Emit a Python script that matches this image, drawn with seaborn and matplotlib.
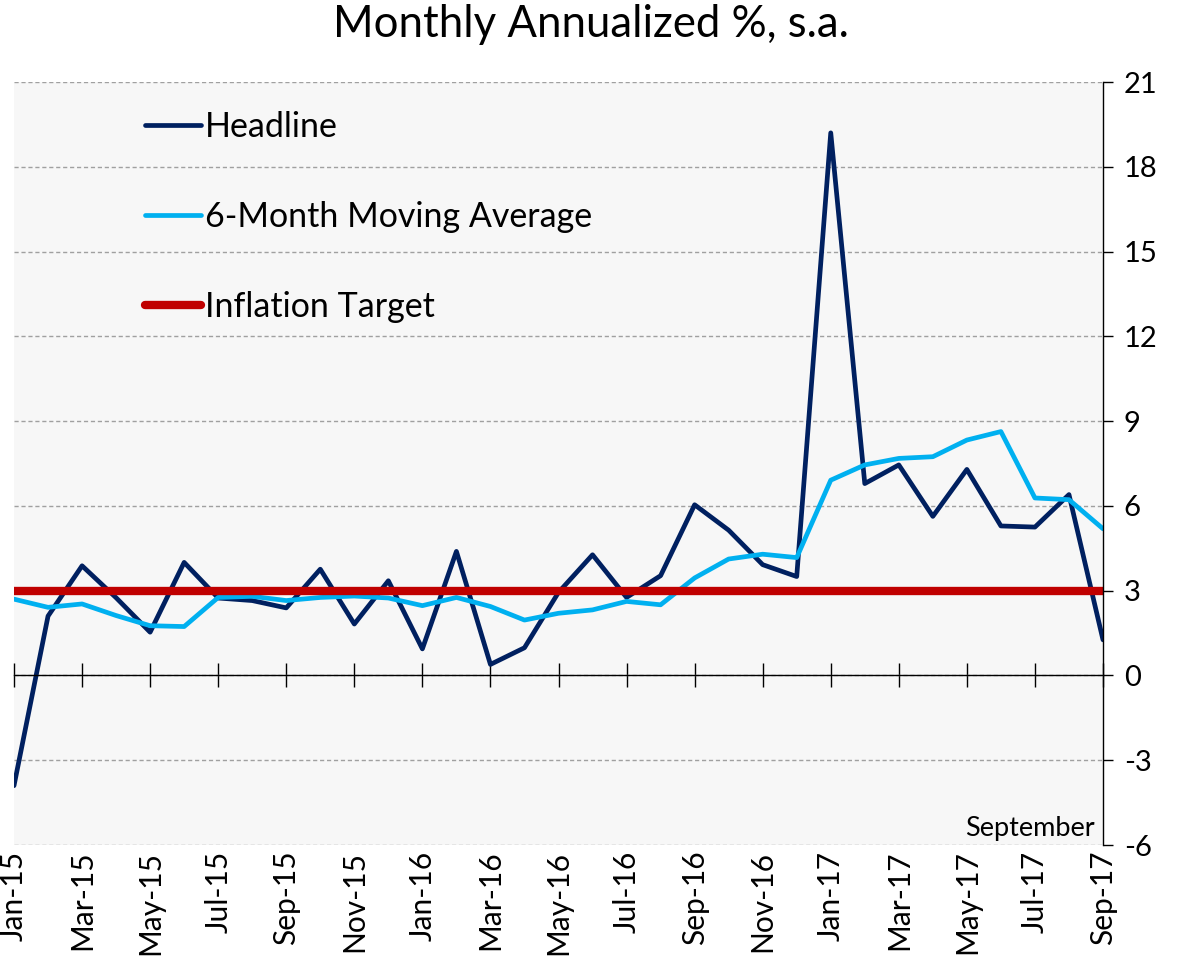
import matplotlib
matplotlib.use("Agg")
import matplotlib.pyplot as plt
import seaborn as sns
import numpy as np

# Data
months = ["Jan-15", "Feb-15", "Mar-15", "Apr-15", "May-15", "Jun-15", "Jul-15", "Aug-15",
          "Sep-15", "Oct-15", "Nov-15", "Dec-15", "Jan-16", "Feb-16", "Mar-16", "Apr-16",
          "May-16", "Jun-16", "Jul-16", "Aug-16", "Sep-16", "Oct-16", "Nov-16", "Dec-16",
          "Jan-17", "Feb-17", "Mar-17", "Apr-17", "May-17", "Jun-17", "Jul-17", "Aug-17",
          "Sep-17"]
headline = [-3.9, 2.1, 3.88, 2.75, 1.53, 4.0, 2.74, 2.65, 2.39, 3.76, 1.82, 3.35, 0.94,
            4.39, 0.39, 0.98, 2.94, 4.27, 2.76, 3.53, 6.04, 5.14, 3.92, 3.5, 19.2, 6.79,
            7.45, 5.63, 7.29, 5.29, 5.25, 6.4, 1.26]
moving_avg = [2.7, 2.41, 2.53, 2.12, 1.76, 1.73, 2.76, 2.8, 2.65, 2.76, 2.81, 2.74, 2.47,
              2.76, 2.44, 1.96, 2.2, 2.32, 2.62, 2.5, 3.45, 4.12, 4.29, 4.17, 6.91, 7.45,
              7.68, 7.74, 8.33, 8.63, 6.28, 6.22, 5.19]
target = [3.0] * len(months)
y_ticks = [-6, -3, 0, 3, 6, 9, 12, 15, 18, 21]

x = np.arange(len(months))

sns.set_theme(style="white")
plt.rcParams["font.family"] = ["Lato", "DejaVu Sans"]
plt.rcParams["axes.unicode_minus"] = False
plt.rcParams["text.color"] = "black"
plt.rcParams["xtick.color"] = "black"
plt.rcParams["ytick.color"] = "black"

fig = plt.figure(figsize=(11.81, 9.61), dpi=100)
ax = fig.add_axes([14 / 1181, 116 / 961, 1089 / 1181, 763 / 961])
ax.set_facecolor("#F7F7F7")

sns.lineplot(x=x, y=headline, ax=ax, color="#002060", linewidth=3.4, label="Headline")
sns.lineplot(x=x, y=moving_avg, ax=ax, color="#00B0F0", linewidth=3.4,
             label="6-Month Moving Average")
sns.lineplot(x=x, y=target, ax=ax, color="#C00000", linewidth=6.0, label="Inflation Target")

ax.set_xlim(0, len(months) - 1)
ax.set_ylim(-6, 21)

# gridlines
ax.set_yticks(y_ticks)
ax.yaxis.grid(True, linestyle=(0, (3, 2)), color="#A0A0A0", linewidth=1.0)
ax.xaxis.grid(False)
ax.set_axisbelow(True)

# right value axis
ax.yaxis.tick_right()
ax.tick_params(axis="y", which="both", right=True, left=False, direction="out",
               length=7, width=1, color="black", labelsize=21, labelcolor="black", pad=8)
for side in ["top", "left"]:
    ax.spines[side].set_visible(False)
ax.spines["right"].set_color("black")
ax.spines["right"].set_linewidth(1)

# zero line with crossing ticks
ax.spines["bottom"].set_position(("data", 0))
ax.spines["bottom"].set_color("black")
ax.spines["bottom"].set_linewidth(1)
ax.set_xticks(x[::2])
ax.tick_params(axis="x", bottom=True, direction="inout", length=17, width=1,
               color="black", labelbottom=False)

# month labels along the bottom of the plot
sec = ax.secondary_xaxis("bottom")
sec.set_xticks(x[::2], [months[i] for i in x[::2]], rotation=90)
sec.tick_params(axis="x", length=0, labelsize=21.5, labelcolor="black", pad=4)
sec.spines["bottom"].set_visible(False)

ax.set_xlabel("")
ax.set_ylabel("")

ax.annotate("September", xy=(len(months) - 1, -6), xytext=(-6, 3),
            textcoords="offset points", ha="right", va="bottom", fontsize=19.5,
            color="black")

leg = ax.legend(loc="upper left", bbox_to_anchor=(0.12, 0.962), frameon=False,
                fontsize=24.5, handlelength=1.65, handletextpad=0.12,
                labelspacing=1.7, borderpad=0, borderaxespad=0)
for t in leg.get_texts():
    t.set_color("black")

fig.suptitle("Monthly Annualized %, s.a.", x=0.5, y=0.974, va="center", fontsize=31.5,
             color="black")

plt.savefig("out.png", dpi=100)
